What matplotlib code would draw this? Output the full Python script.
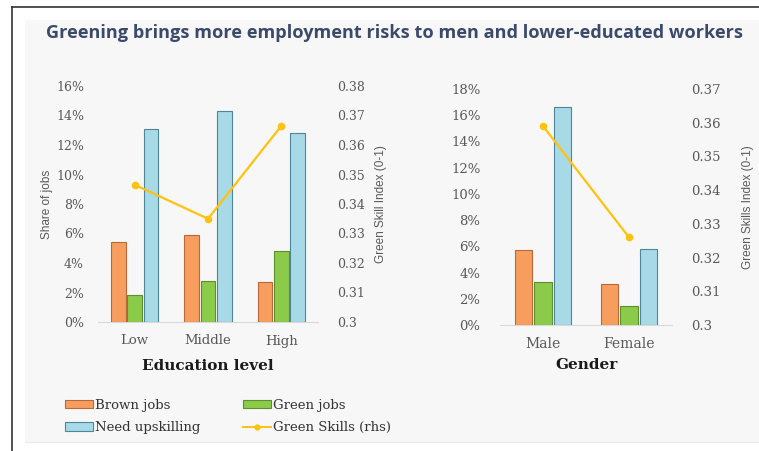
import matplotlib
matplotlib.use("Agg")
import matplotlib.pyplot as plt
from matplotlib.patches import Rectangle, Patch
from matplotlib.lines import Line2D
import numpy as np

# ---- data ----
edu_levels = ["Low", "Middle", "High"]
edu_brown = [5.4, 5.9, 2.7]
edu_green = [1.8, 2.8, 4.8]
edu_upskill = [13.1, 14.3, 12.8]
edu_skills = [0.3465, 0.335, 0.3665]

genders = ["Male", "Female"]
gen_brown = [5.7, 3.15]
gen_green = [3.3, 1.45]
gen_upskill = [16.6, 5.8]
gen_skills = [0.359, 0.326]

left_ticks = [0, 2, 4, 6, 8, 10, 12, 14, 16]
left_rticks = [0.30, 0.31, 0.32, 0.33, 0.34, 0.35, 0.36, 0.37, 0.38]
right_ticks = [0, 2, 4, 6, 8, 10, 12, 14, 16, 18]
right_rticks = [0.30, 0.31, 0.32, 0.33, 0.34, 0.35, 0.36, 0.37]

title = "Greening brings more employment risks to men and lower-educated workers"

# ---- style ----
C_BROWN, E_BROWN = "#F79E5E", "#B8683A"
C_GREEN, E_GREEN = "#8CCB4A", "#5E8F2E"
C_BLUE, E_BLUE = "#A7D9E6", "#4F8799"
C_LINE = "#FFC20E"
TICK_C = "#595959"
BG = "#F7F7F7"

W, H = 759, 451
fig = plt.figure(figsize=(W / 100, H / 100), dpi=100)
fig.patch.set_facecolor("white")

def fx(x):
    return x / W

def fy(y):
    return 1 - y / H

# panel background and frame lines
fig.patches.append(Rectangle((fx(25), fy(442)), fx(759) - fx(25), fy(20) - fy(442),
                             transform=fig.transFigure, facecolor=BG, edgecolor="none", zorder=-5))
fig.lines.append(Line2D([fx(12), fx(759)], [fy(7), fy(7)], transform=fig.transFigure,
                        color="#333333", lw=1.2, zorder=-4))
fig.lines.append(Line2D([fx(12), fx(12)], [fy(7), fy(451)], transform=fig.transFigure,
                        color="#333333", lw=1.2, zorder=-4))
fig.lines.append(Line2D([fx(25), fx(759)], [fy(442), fy(442)], transform=fig.transFigure,
                        color="#EBEBEB", lw=1.0, zorder=-4))

fig.text(fx(394), fy(33), title, ha="center", va="center", fontsize=13.1,
         fontweight="bold", color="#3B4A6B", family="Open Sans")

SERIF = "DejaVu Serif"

def make_panel(rect, cats, brown, green, upskill, skills, ymax, yticks, rlim, rticks,
               xlabel, rlabel, bw, tick_fs, ypad, rlabelpad, xlabelpad, sans_label=None):
    ax = fig.add_axes(rect)
    ax.set_facecolor("none")
    x = np.arange(len(cats))
    off = bw * 1.12
    ax.bar(x - off, brown, bw, color=C_BROWN, edgecolor=E_BROWN, lw=0.8, zorder=3)
    ax.bar(x, green, bw, color=C_GREEN, edgecolor=E_GREEN, lw=0.8, zorder=3)
    ax.bar(x + off, upskill, bw, color=C_BLUE, edgecolor=E_BLUE, lw=0.8, zorder=3)
    ax.set_xlim(-0.5, len(cats) - 0.5)
    ax.set_ylim(0, ymax)
    ax.set_yticks(yticks)
    ax.set_yticklabels([f"{t}%" for t in yticks], family=SERIF, fontsize=tick_fs, color=TICK_C)
    ax.set_xticks(x)
    ax.set_xticklabels(cats, family=SERIF, fontsize=tick_fs + 0.5, color=TICK_C)
    for s in ["top", "right", "left"]:
        ax.spines[s].set_visible(False)
    ax.spines["bottom"].set_color("#D9D9D9")
    ax.tick_params(length=0)
    ax.tick_params(axis="y", pad=ypad)
    ax.tick_params(axis="x", pad=9)
    ax.set_xlabel(xlabel, family=SERIF, fontsize=11, fontweight="bold", color="#1a1a1a",
                  labelpad=xlabelpad)
    if sans_label:
        ax.set_ylabel(sans_label, family="Liberation Sans", fontsize=8.5, color=TICK_C, labelpad=2)
    ax2 = ax.twinx()
    ax2.plot(x, skills, color=C_LINE, lw=1.6, marker="o", ms=4.5, zorder=5)
    ax2.set_ylim(*rlim)
    ax2.set_yticks(rticks)
    ax2.set_yticklabels([("0.3" if abs(t - 0.3) < 1e-9 else f"{t:.2f}") for t in rticks],
                        family=SERIF, fontsize=tick_fs, color=TICK_C)
    for s in ["top", "right", "left", "bottom"]:
        ax2.spines[s].set_visible(False)
    ax2.tick_params(length=0, pad=14)
    ax2.set_ylabel(rlabel, family="Liberation Sans", fontsize=8.5, color=TICK_C, labelpad=rlabelpad)
    return ax, ax2

make_panel([fx(98), fy(322), fx(318) - fx(98), fy(86) - fy(322)],
           edu_levels, edu_brown, edu_green, edu_upskill, edu_skills,
           16, left_ticks, (0.30, 0.38), left_rticks,
           "Education level", "Green Skill Index (0-1)", 0.2, 9,
           ypad=10, rlabelpad=7, xlabelpad=8, sans_label="Share of jobs")

make_panel([fx(500), fy(325), fx(672) - fx(500), fy(89) - fy(325)],
           genders, gen_brown, gen_green, gen_upskill, gen_skills,
           18, right_ticks, (0.30, 0.3698), right_rticks,
           "Gender", "Green Skills Index (0-1)", 0.2, 9.5,
           ypad=14, rlabelpad=15, xlabelpad=5)

handles = [Patch(facecolor=C_BROWN, edgecolor=E_BROWN, lw=0.8),
           Patch(facecolor=C_BLUE, edgecolor=E_BLUE, lw=0.8),
           Patch(facecolor=C_GREEN, edgecolor=E_GREEN, lw=0.8),
           Line2D([], [], color=C_LINE, lw=1.4, marker="o", ms=3.5)]
labels = ["Brown jobs", "Need upskilling", "Green jobs", "Green Skills (rhs)"]
leg = fig.legend(handles, labels, ncol=2, loc="upper left",
                 bbox_to_anchor=(fx(53), fy(387)), frameon=False,
                 prop={"family": SERIF, "size": 9.5}, labelcolor="#333333",
                 handlelength=2.1, handleheight=0.6, handletextpad=0.2,
                 columnspacing=3.2, labelspacing=0.7)

fig.savefig("out.png", dpi=100, facecolor="white")
